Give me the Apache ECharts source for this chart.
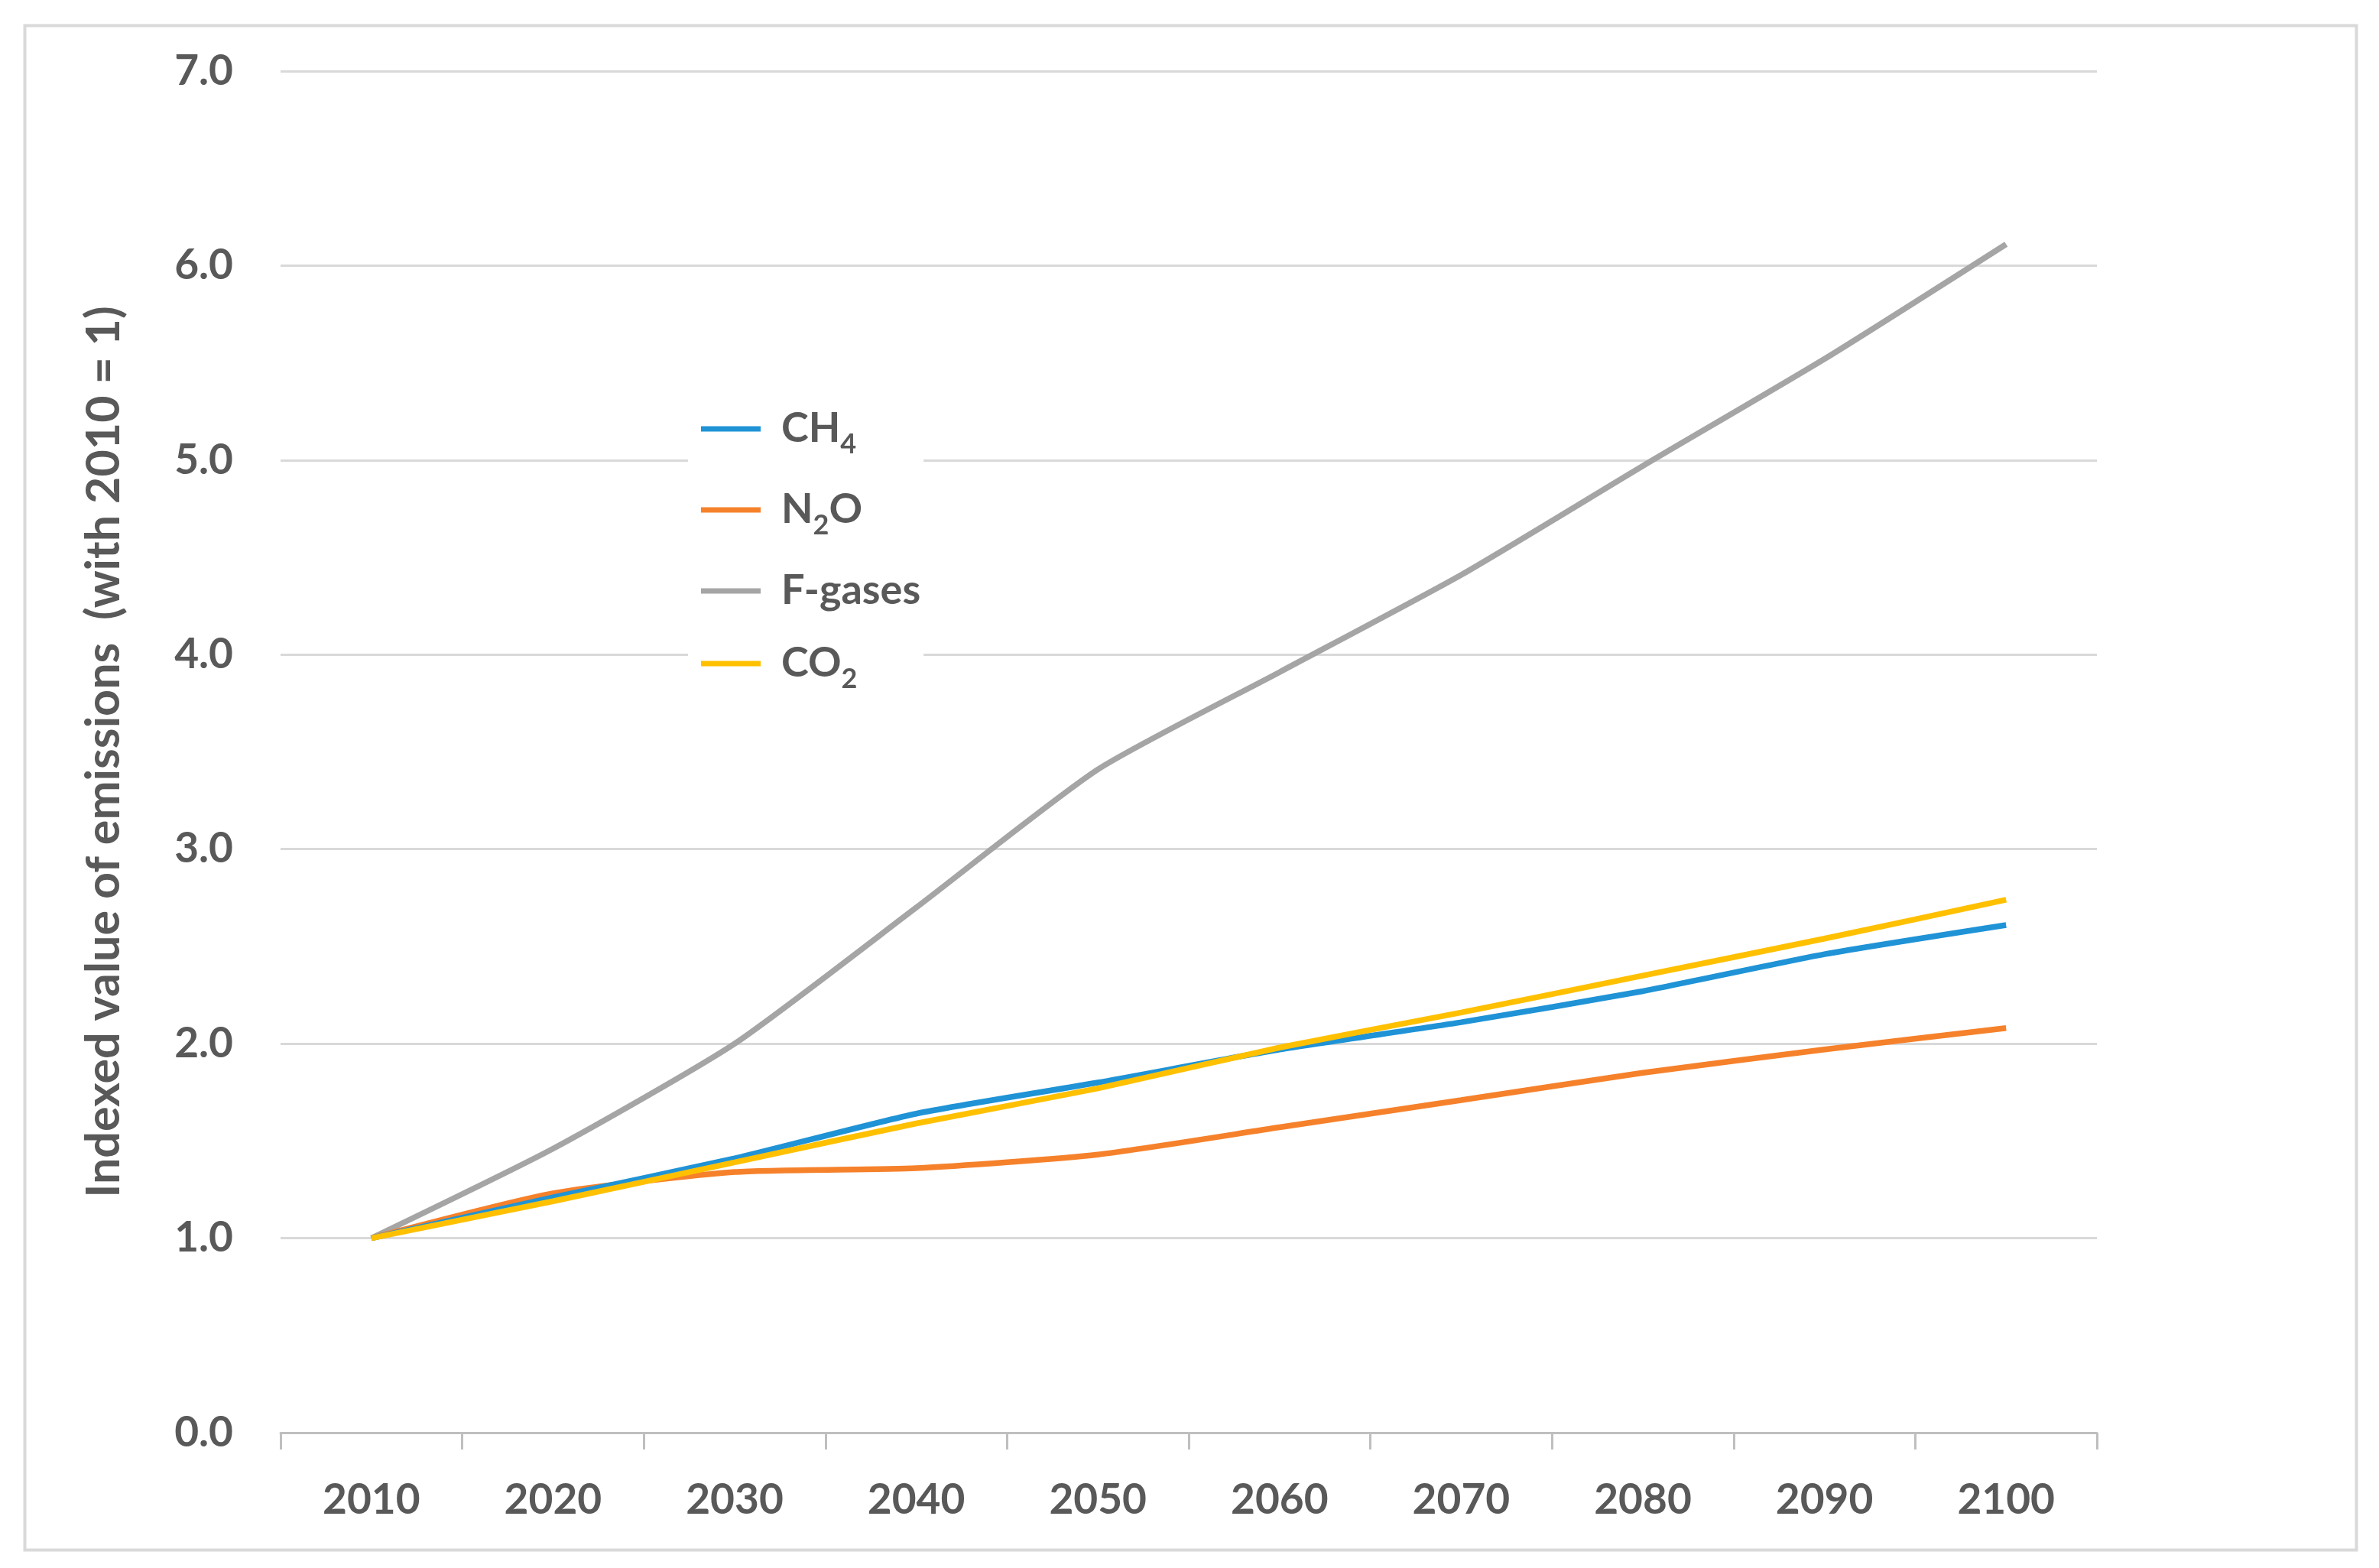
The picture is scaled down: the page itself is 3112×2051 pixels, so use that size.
<!DOCTYPE html>
<html>
<head>
<meta charset="utf-8">
<script src="https://cdn.jsdelivr.net/npm/echarts@6/dist/echarts.min.js"></script>
<style>html,body{margin:0;padding:0;background:#fff;}#c{width:3112px;height:2051px;}</style>
</head>
<body>
<div id="c"></div>
<script>
var years = ['2010','2020','2030','2040','2050','2060','2070','2080','2090','2100'];
var ch4 = [1.00, 1.21, 1.41, 1.64, 1.80, 1.97, 2.11, 2.27, 2.46, 2.61];
var n2o = [1.00, 1.23, 1.34, 1.36, 1.43, 1.57, 1.71, 1.85, 1.97, 2.08];
var fgases = [1.00, 1.46, 2.00, 2.70, 3.41, 3.91, 4.41, 4.97, 5.52, 6.11];
var co2 = [1.00, 1.19, 1.39, 1.59, 1.77, 1.98, 2.16, 2.35, 2.54, 2.74];
var yTicks = [0, 1, 2, 3, 4, 5, 6, 7];
var yTitle = 'Indexed value of emissions  (with 2010 = 1)';

var FONT = 'Lato';
var TXT = '#595959';
var chart = echarts.init(document.getElementById('c'));
var legendLabels = {
  'CH4': '{n|CH}{s|4}',
  'N2O': '{n|N}{s|2}{n|O}',
  'F-gases': '{n|F-gases}',
  'CO2': '{n|CO}{s|2}'
};
function mk(name, data, color) {
  return {
    name: name, type: 'line', data: data, smooth: 0.2,
    symbol: 'none', lineStyle: {width: 7.5, color: color}, itemStyle: {color: color}
  };
}
chart.setOption({
  backgroundColor: '#ffffff',
  animation: false,
  graphic: [{
    type: 'rect', left: 30, top: 31, z: -1,
    shape: {width: 3050, height: 1994},
    style: {fill: 'none', stroke: '#d9d9d9', lineWidth: 4}
  }],
  grid: {left: 367, right: 369, top: 93, bottom: 177, containLabel: false},
  legend: {
    orient: 'vertical', left: 900, top: 520,
    backgroundColor: '#ffffff', padding: [14, 4, 14, 17],
    itemWidth: 78, itemHeight: 7, itemGap: 41,
    icon: 'rect',
    data: ['CH4', 'N2O', 'F-gases', 'CO2'],
    formatter: function (n) { return legendLabels[n]; },
    textStyle: {
      color: TXT, fontFamily: FONT, fontWeight: 'bold', fontSize: 54,
      padding: [0, 0, 0, 22],
      rich: {
        n: {color: TXT, fontFamily: FONT, fontWeight: 'bold', fontSize: 54, lineHeight: 64},
        s: {color: TXT, fontFamily: FONT, fontWeight: 'bold', fontSize: 36, lineHeight: 36, verticalAlign: 'bottom', padding: [0, 0, -6, 0]}
      }
    }
  },
  xAxis: {
    type: 'category', data: years, boundaryGap: true,
    axisLine: {lineStyle: {color: '#bfbfbf', width: 3}},
    axisTick: {show: true, length: 22, lineStyle: {color: '#bfbfbf', width: 3}},
    axisLabel: {color: TXT, fontFamily: FONT, fontWeight: 'bold', fontSize: 55, margin: 61}
  },
  yAxis: {
    type: 'value', min: yTicks[0], max: yTicks[yTicks.length - 1], interval: 1,
    name: yTitle, nameLocation: 'middle', nameGap: 200, nameRotate: 90,
    nameTextStyle: {color: TXT, fontFamily: FONT, fontWeight: 'bold', fontSize: 61},
    axisLine: {show: false}, axisTick: {show: false},
    splitLine: {lineStyle: {color: '#d9d9d9', width: 3}},
    axisLabel: {color: TXT, fontFamily: FONT, fontWeight: 'bold', fontSize: 55, margin: 62,
      formatter: function (v) { return v.toFixed(1); }}
  },
  series: [
    mk('F-gases', fgases, '#a5a5a5'),
    mk('N2O', n2o, '#f6812b'),
    mk('CH4', ch4, '#1f93d6'),
    mk('CO2', co2, '#ffc000')
  ]
});
</script>
</body>
</html>
